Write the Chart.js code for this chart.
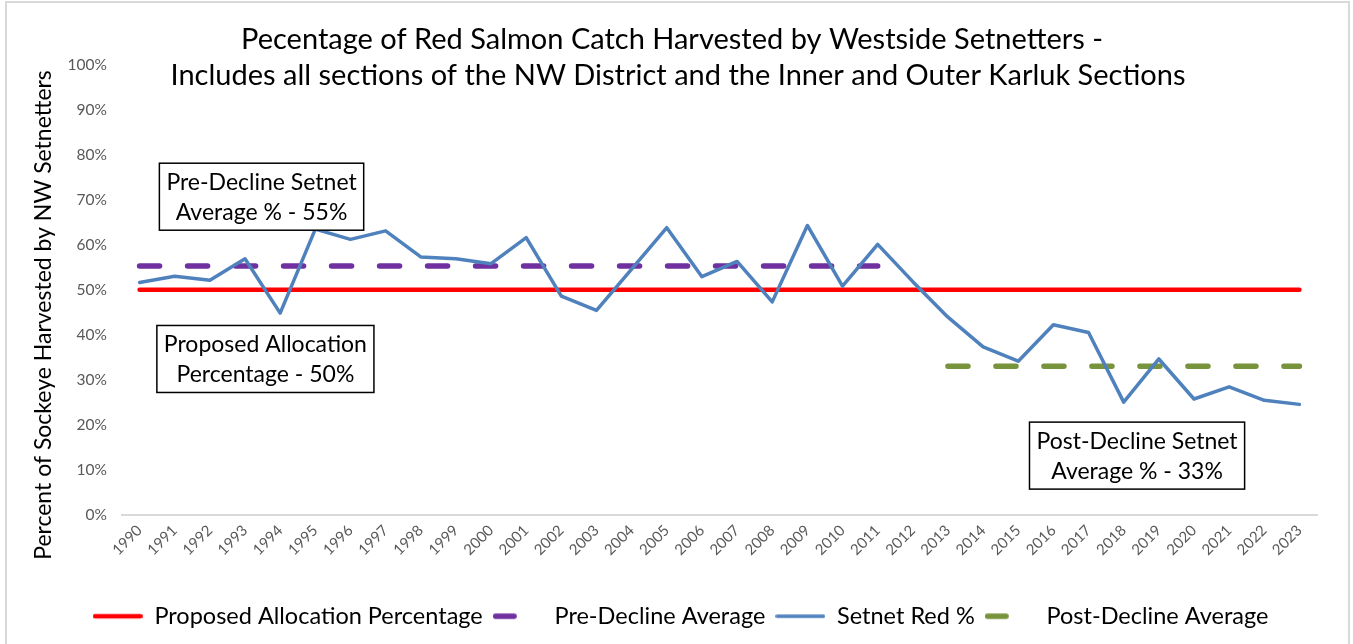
<!DOCTYPE html>
<html>
<head>
<meta charset="utf-8">
<title>Red Salmon Catch - Westside Setnetters</title>
<script src="https://cdn.jsdelivr.net/npm/chart.js@4.4.1/dist/chart.umd.min.js"></script>
<style>
  html, body { margin: 0; padding: 0; background: #fff; }
  #wrap { position: relative; width: 1353px; height: 644px; }
</style>
</head>
<body>
<div id="wrap"><canvas id="salmonChart"></canvas></div>
<script>
// Data
const years = ['1990', '1991', '1992', '1993', '1994', '1995', '1996', '1997', '1998', '1999',
  '2000', '2001', '2002', '2003', '2004', '2005', '2006', '2007', '2008', '2009',
  '2010', '2011', '2012', '2013', '2014', '2015', '2016', '2017', '2018', '2019',
  '2020', '2021', '2022', '2023'];

const setnetRed = [51.6, 53.0, 52.1, 56.9, 44.8, 63.5, 61.2, 63.1, 57.3, 56.9,
  55.8, 61.6, 48.6, 45.4, 54.6, 63.8, 52.9, 56.3, 47.3, 64.3,
  50.8, 60.1, 51.8, 43.9, 37.3, 34.1, 42.2, 40.5, 25.0, 34.6,
  25.7, 28.4, 25.4, 24.5];

const proposedAllocation = [50, 50, 50, 50, 50, 50, 50, 50, 50, 50,
  50, 50, 50, 50, 50, 50, 50, 50, 50, 50,
  50, 50, 50, 50, 50, 50, 50, 50, 50, 50,
  50, 50, 50, 50];

const preDeclineAvg = [55.3, 55.3, 55.3, 55.3, 55.3, 55.3, 55.3, 55.3, 55.3, 55.3,
  55.3, 55.3, 55.3, 55.3, 55.3, 55.3, 55.3, 55.3, 55.3, 55.3,
  55.3, 55.3, null, null, null, null, null, null, null, null,
  null, null, null, null];

const postDeclineAvg = [null, null, null, null, null, null, null, null, null, null,
  null, null, null, null, null, null, null, null, null, null,
  null, null, null, 33, 33, 33, 33, 33, 33, 33,
  33, 33, 33, 33];

const yTicks = [0, 10, 20, 30, 40, 50, 60, 70, 80, 90, 100];

const titleLines = [
  'Pecentage of Red Salmon Catch Harvested by Westside Setnetters -',
  'Includes all sections of the NW District and the Inner and Outer Karluk Sections'
];
const yTitle = 'Percent of Sockeye Harvested by NW Setnetters';

// Text boxes, anchored on the chart scales (category index, percent)
const notes = [
  { x: 3.47, y: 70.7, lines: ['Pre-Decline Setnet', 'Average % - 55%'] },
  { x: 3.58, y: 34.6, lines: ['Proposed Allocation', 'Percentage - 50%'] },
  { x: 28.38, y: 13.1, lines: ['Post-Decline Setnet', 'Average % - 33%'] }
];

const FONT = 'Lato, "Open Sans", sans-serif';

// Frame, title and y-axis title
const framePlugin = {
  id: 'frame',
  beforeDraw(chart) {
    const c = chart.ctx;
    c.save();
    c.fillStyle = '#fff';
    c.fillRect(0, 0, chart.width, chart.height);
    c.strokeStyle = '#d9d9d9';
    c.lineWidth = 2;
    c.strokeRect(6, 2, chart.width - 10, chart.height + 10);
    c.restore();
  },
  afterDraw(chart) {
    const c = chart.ctx;
    c.save();
    c.fillStyle = '#000';
    c.font = '29px ' + FONT;
    c.textAlign = 'center';
    c.textBaseline = 'middle';
    c.fillText(titleLines[0], 672, 40);
    c.fillText(titleLines[1], 678, 76);

    c.translate(44, 315);
    c.rotate(-Math.PI / 2);
    c.font = '23px ' + FONT;
    c.fillText(yTitle, 0, 0);
    c.restore();
  }
};

// Bordered notes
const notesPlugin = {
  id: 'notes',
  afterDatasetsDraw(chart) {
    const c = chart.ctx;
    const xs = chart.scales.x, ys = chart.scales.y;
    c.save();
    c.font = '23px ' + FONT;
    c.textAlign = 'center';
    c.textBaseline = 'middle';
    notes.forEach(n => {
      const cx = xs.getPixelForValue(n.x);
      const cy = ys.getPixelForValue(n.y);
      const w = Math.max(...n.lines.map(l => c.measureText(l).width)) + 14;
      const h = 67;
      c.fillStyle = '#fff';
      c.fillRect(cx - w / 2, cy - h / 2, w, h);
      c.strokeStyle = '#000';
      c.lineWidth = 1.5;
      c.strokeRect(cx - w / 2, cy - h / 2, w, h);
      c.fillStyle = '#000';
      c.fillText(n.lines[0], cx, cy - 14);
      c.fillText(n.lines[1], cx, cy + 16);
    });
    c.restore();
  }
};

// Legend sample drawn like Excel: a full stroke, or one dash for dashed series
function legendSample(ds) {
  const cv = document.createElement('canvas');
  cv.width = 50;
  cv.height = 10;
  const g = cv.getContext('2d');
  g.strokeStyle = ds.borderColor;
  g.lineWidth = ds.borderWidth;
  g.lineCap = 'round';
  g.beginPath();
  const half = ds.borderWidth / 2;
  if (ds.borderDash) {
    g.moveTo(half, 5);
    g.lineTo(24 - half, 5);
  } else {
    g.moveTo(half, 5);
    g.lineTo(50 - half, 5);
  }
  g.stroke();
  return cv;
}

const ctx = document.getElementById('salmonChart').getContext('2d');
const chart = new Chart(ctx, {
  type: 'line',
  data: {
    labels: years,
    datasets: [
      {
        label: 'Proposed Allocation Percentage',
        data: proposedAllocation,
        borderColor: '#ff0000',
        backgroundColor: '#ff0000',
        borderWidth: 4.5,
        borderCapStyle: 'round',
        order: 3
      },
      {
        label: 'Pre-Decline Average',
        data: preDeclineAvg,
        borderColor: '#7030a0',
        backgroundColor: '#7030a0',
        borderWidth: 5.5,
        borderDash: [20, 28],
        borderCapStyle: 'round',
        order: 2
      },
      {
        label: 'Setnet Red %',
        data: setnetRed,
        borderColor: '#4f81bd',
        backgroundColor: '#4f81bd',
        borderWidth: 3.5,
        borderCapStyle: 'round',
        borderJoinStyle: 'round',
        order: 0
      },
      {
        label: 'Post-Decline Average',
        data: postDeclineAvg,
        borderColor: '#77933c',
        backgroundColor: '#77933c',
        borderWidth: 5.5,
        borderDash: [20, 28],
        borderCapStyle: 'round',
        order: 1
      }
    ]
  },
  options: {
    responsive: true,
    maintainAspectRatio: false,
    animation: false,
    layout: { padding: { left: 44, right: 36, top: 65, bottom: 6 } },
    elements: { point: { radius: 0, hoverRadius: 0 }, line: { tension: 0 } },
    scales: {
      x: {
        offset: true,
        grid: { display: false, drawTicks: false },
        border: { color: '#d9d9d9', width: 2 },
        ticks: {
          autoSkip: false,
          minRotation: 45,
          maxRotation: 45,
          padding: 7,
          color: '#595959',
          font: { family: FONT, size: 15 }
        },
        afterFit(scale) { scale.height = 80; }
      },
      y: {
        min: 0,
        max: 100,
        afterBuildTicks(scale) { scale.ticks = yTicks.map(v => ({ value: v })); },
        grid: { display: false },
        border: { display: false },
        ticks: {
          padding: 7,
          color: '#595959',
          font: { family: FONT, size: 15.5 },
          callback: v => v + '%'
        },
        afterFit(scale) { scale.width = 78; }
      }
    },
    plugins: {
      legend: {
        position: 'bottom',
        labels: {
          usePointStyle: true,
          pointStyleWidth: 50,
          padding: 10,
          color: '#000',
          font: { family: FONT, size: 23.5 },
          sort: (a, b) => a.datasetIndex - b.datasetIndex,
          generateLabels(chart) {
            const items = Chart.defaults.plugins.legend.labels.generateLabels(chart);
            items.forEach(it => {
              it.pointStyle = legendSample(chart.data.datasets[it.datasetIndex]);
            });
            return items;
          }
        }
      },
      tooltip: { enabled: false }
    }
  },
  plugins: [framePlugin, notesPlugin]
});
</script>
</body>
</html>
